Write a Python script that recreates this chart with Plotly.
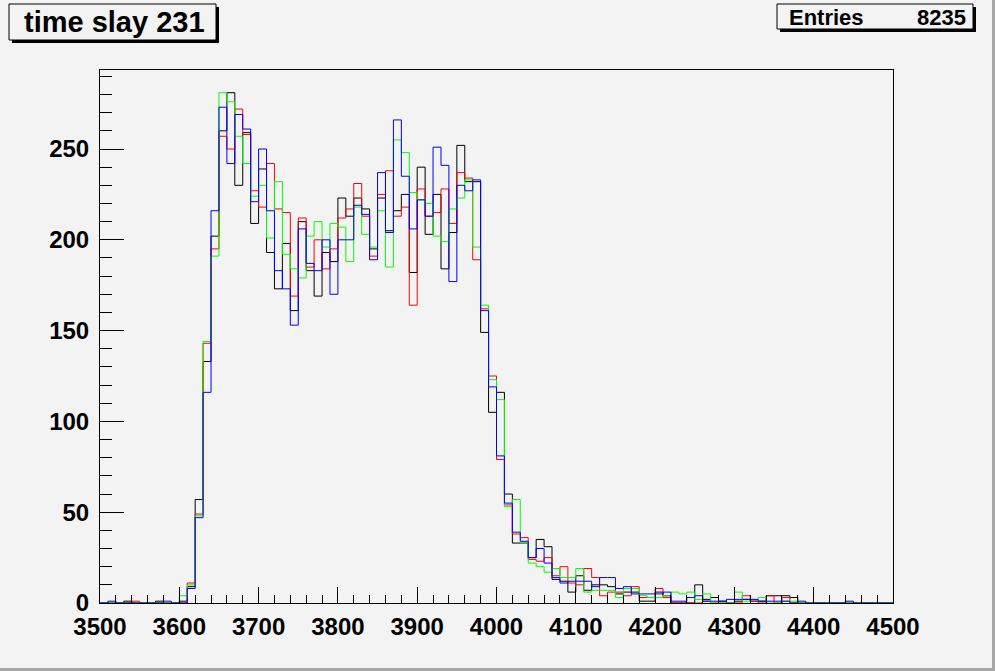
import numpy as np
import plotly.graph_objects as go

# ---------------- data ----------------
bin_low = 3500
bin_width = 10
n_bins = 100

black_counts = [0, 0, 0, 1, 0, 0, 0, 1, 0, 0,
                1, 9, 57, 133, 202, 260, 281, 230, 259, 209,
                239, 193, 173, 198, 161, 210, 183, 169, 193, 188,
                223, 213, 223, 217, 195, 223, 205, 216, 225, 182,
                240, 203, 225, 184, 204, 252, 232, 232, 149, 105,
                116, 60, 33, 33, 25, 35, 31, 13, 12, 6,
                15, 7, 10, 10, 9, 5, 6, 6, 1, 1,
                6, 4, 0, 0, 0, 10, 2, 3, 1, 0,
                1, 2, 1, 1, 4, 4, 4, 3, 0, 0,
                0, 0, 0, 0, 0, 0, 0, 0, 0, 0]

red_counts = [0, 0, 0, 0, 1, 0, 0, 0, 0, 0,
              0, 11, 49, 143, 195, 257, 250, 272, 258, 227,
              218, 242, 217, 215, 169, 212, 185, 200, 184, 195,
              212, 217, 231, 213, 191, 225, 238, 213, 218, 164,
              228, 213, 215, 228, 209, 237, 234, 189, 162, 125,
              79, 54, 38, 36, 24, 23, 25, 15, 20, 11,
              10, 19, 14, 4, 6, 6, 4, 9, 3, 3,
              8, 3, 0, 0, 0, 0, 1, 0, 0, 0,
              0, 4, 1, 0, 4, 0, 3, 0, 0, 0,
              0, 0, 0, 0, 0, 0, 0, 0, 0, 0]

green_counts = [0, 0, 0, 0, 0, 0, 0, 0, 0, 0,
                4, 10, 48, 144, 191, 281, 276, 257, 242, 224,
                230, 201, 232, 192, 184, 179, 202, 210, 196, 209,
                207, 188, 218, 203, 196, 216, 185, 255, 248, 226,
                222, 220, 202, 199, 217, 223, 233, 196, 164, 123,
                112, 53, 57, 33, 22, 20, 17, 19, 14, 14,
                19, 6, 7, 7, 7, 3, 8, 8, 4, 3,
                3, 4, 6, 5, 6, 2, 5, 0, 0, 0,
                6, 1, 2, 3, 0, 0, 1, 1, 0, 0,
                0, 0, 0, 0, 0, 0, 0, 0, 0, 0]

blue_counts = [0, 1, 0, 0, 0, 0, 0, 0, 1, 0,
               0, 8, 47, 116, 216, 273, 242, 269, 261, 221,
               250, 216, 183, 173, 153, 206, 187, 183, 200, 170,
               200, 200, 219, 214, 189, 237, 204, 266, 235, 206,
               222, 213, 251, 241, 177, 230, 227, 233, 161, 119,
               81, 55, 39, 34, 25, 30, 22, 14, 11, 12,
               12, 12, 9, 14, 14, 8, 9, 5, 5, 5,
               5, 6, 1, 1, 3, 4, 1, 1, 1, 2,
               2, 2, 2, 1, 1, 1, 1, 0, 1, 0,
               0, 0, 0, 0, 1, 0, 0, 0, 0, 0]

x_tick_values = [3500, 3600, 3700, 3800, 3900, 4000, 4100, 4200, 4300, 4400, 4500]
y_tick_values = [0, 50, 100, 150, 200, 250]

title_text = "time slay 231"
stats_label = "Entries"
stats_value = "8235"

# ---------------- style ----------------
BG = "#f3f3f3"
FONT = "Liberation Sans, Arial, Helvetica, sans-serif"
W, H = 995, 671
L, R, T, B = 100, 893, 70, 603  # plot frame in pixels

edges = bin_low + bin_width * np.arange(n_bins + 1)

fig = go.Figure()
series = [("black", black_counts, "#000000"),
          ("red", red_counts, "#ff0000"),
          ("green", green_counts, "#00ff00"),
          ("blue", blue_counts, "#0000ff")]
for name, vals, col in series:
    yv = list(vals) + [vals[-1]]
    fig.add_trace(go.Scatter(x=edges, y=yv, mode="lines", line_shape="hv",
                             line=dict(color=col, width=1), name=name,
                             showlegend=False, hoverinfo="skip"))


def px2x(px):
    return (px - L) / (R - L)


def px2y(py):
    return (B - py) / (B - T)


shapes = []
# canvas 3D border
shapes.append(dict(type="rect", xref="paper", yref="paper",
                   x0=px2x(992), x1=px2x(996), y0=px2y(672), y1=px2y(-1),
                   fillcolor="#a6a6a6", line=dict(width=0), layer="below"))
shapes.append(dict(type="rect", xref="paper", yref="paper",
                   x0=px2x(-1), x1=px2x(996), y0=px2y(672), y1=px2y(668),
                   fillcolor="#a6a6a6", line=dict(width=0), layer="below"))


def pave(x0, y0, x1, y1):
    # shadow
    shapes.append(dict(type="rect", xref="paper", yref="paper",
                       x0=px2x(x0 + 3), x1=px2x(x1 + 3), y0=px2y(y1 + 3), y1=px2y(y0 + 3),
                       fillcolor="#000000", line=dict(width=0)))
    shapes.append(dict(type="rect", xref="paper", yref="paper",
                       x0=px2x(x0), x1=px2x(x1), y0=px2y(y1), y1=px2y(y0),
                       fillcolor=BG, line=dict(color="#000000", width=1)))


pave(9, 4, 216, 40)
pave(777, 4, 973, 29)

fig.update_layout(
    width=W, height=H,
    margin=dict(l=L, r=W - R, t=T, b=H - B, pad=0),
    paper_bgcolor=BG, plot_bgcolor=BG,
    shapes=shapes,
    showlegend=False,
    font=dict(family=FONT, color="#000000"),
    annotations=[
        dict(text="<b>" + title_text + "</b>", xref="paper", yref="paper",
             x=px2x(114), y=px2y(22), xanchor="center", yanchor="middle",
             showarrow=False, font=dict(family=FONT, size=29, color="#000000")),
        dict(text="<b>" + stats_label + "</b>", xref="paper", yref="paper",
             x=px2x(787), y=px2y(17), xanchor="left", yanchor="middle",
             showarrow=False, font=dict(family=FONT, size=22, color="#000000")),
        dict(text="<b>" + stats_value + "</b>", xref="paper", yref="paper",
             x=px2x(968), y=px2y(17), xanchor="right", yanchor="middle",
             showarrow=False, font=dict(family=FONT, size=22, color="#000000")),
    ],
)

fig.update_xaxes(range=[3500, 4500], tickvals=x_tick_values,
                 ticktext=["<b>%d</b>" % v for v in x_tick_values],
                 ticks="inside", ticklen=16, tickwidth=1, tickcolor="#000000",
                 minor=dict(dtick=20, ticks="inside", ticklen=8, tickwidth=1, tickcolor="#000000"),
                 showgrid=False, zeroline=False, showline=True, mirror=True,
                 linecolor="#000000", linewidth=1,
                 tickfont=dict(family=FONT, size=24, color="#000000"),
                 ticklabelstandoff=2)
fig.update_yaxes(range=[0, 293.5], tickvals=y_tick_values,
                 ticktext=["<b>%d</b>" % v for v in y_tick_values],
                 ticks="inside", ticklen=24, tickwidth=1, tickcolor="#000000",
                 minor=dict(dtick=10, ticks="inside", ticklen=12, tickwidth=1, tickcolor="#000000"),
                 showgrid=False, zeroline=False, showline=True, mirror=True,
                 linecolor="#000000", linewidth=1,
                 tickfont=dict(family=FONT, size=24, color="#000000"),
                 ticklabelstandoff=5)

fig.write_html("out.html", config={"displayModeBar": False},
               post_script="document.body.style.margin='0px';document.body.style.overflow='hidden';")
